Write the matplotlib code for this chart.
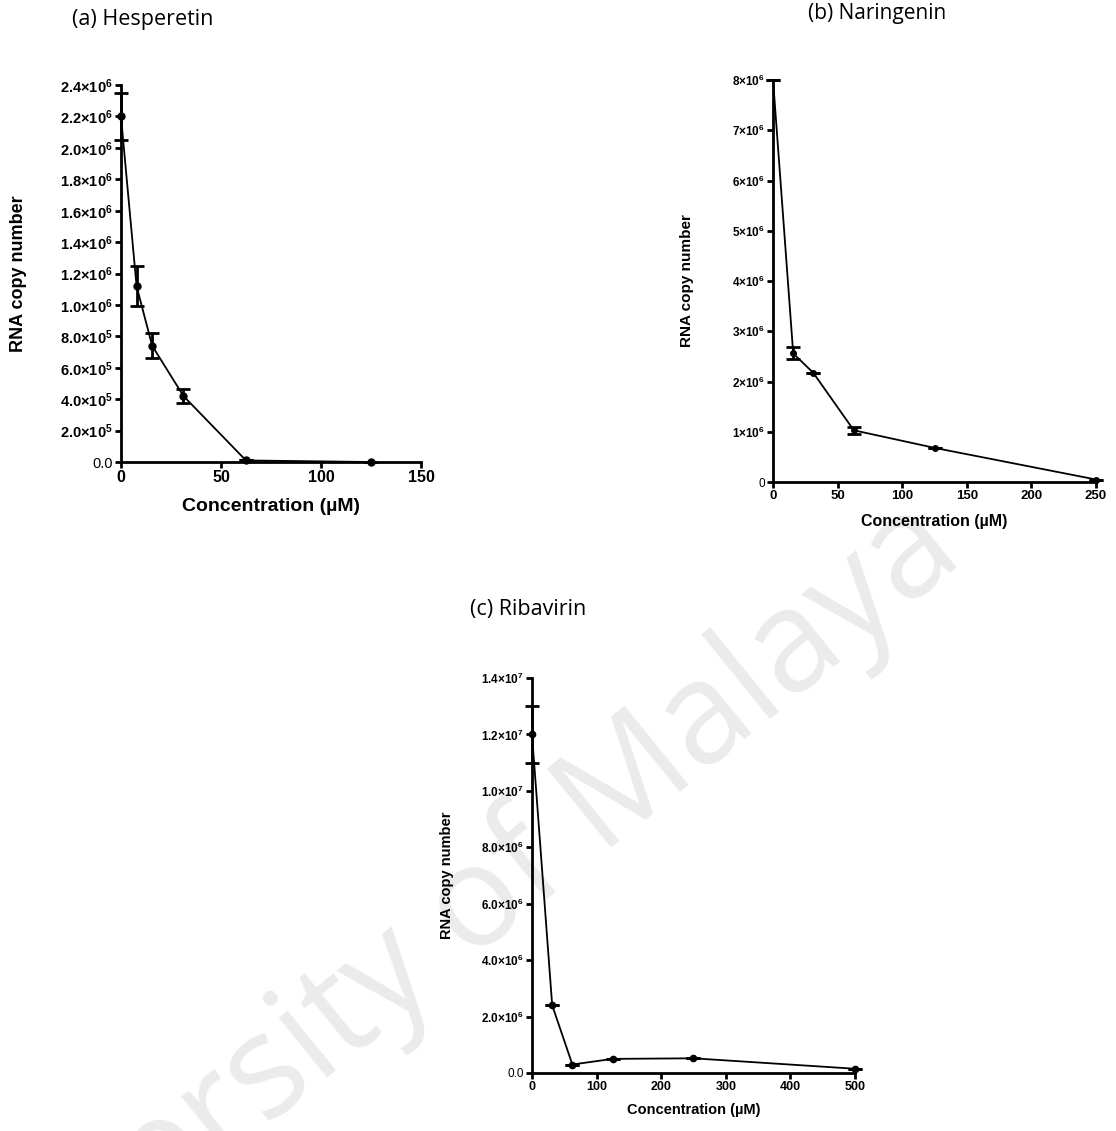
import matplotlib

matplotlib.use("Agg")

import matplotlib.pyplot as plt
from matplotlib.ticker import FixedLocator, FuncFormatter

plt.rcParams["font.family"] = ["Liberation Sans", "DejaVu Sans"]
plt.rcParams["mathtext.fontset"] = "custom"
plt.rcParams["mathtext.rm"] = "Liberation Sans:bold"
plt.rcParams["mathtext.bf"] = "Liberation Sans:bold"

# (a) Hesperetin
hes_conc = [0, 7.8, 15.6, 31.25, 62.5, 125]
hes_rna = [2.20e6, 1.12e6, 0.74e6, 0.42e6, 0.01e6, 0.0]
hes_err = [0.15e6, 0.125e6, 0.08e6, 0.045e6, 0.0, 0.0]

# (b) Naringenin
nar_conc = [0, 15.6, 31.25, 62.5, 125, 250]
nar_rna = [8.0e6, 2.56e6, 2.17e6, 1.03e6, 0.68e6, 0.05e6]
nar_err = [0.0, 0.12e6, 0.0, 0.07e6, 0.0, 0.0]

# (c) Ribavirin
rib_conc = [0, 31.25, 62.5, 125, 250, 500]
rib_rna = [1.20e7, 2.4e6, 0.3e6, 0.5e6, 0.52e6, 0.15e6]
rib_err = [0.10e7, 0.0, 0.0, 0.0, 0.0, 0.0]

hes_yticks = [0, 2e5, 4e5, 6e5, 8e5, 1e6, 1.2e6, 1.4e6, 1.6e6, 1.8e6, 2.0e6, 2.2e6, 2.4e6]
nar_yticks = [0, 1e6, 2e6, 3e6, 4e6, 5e6, 6e6, 7e6, 8e6]
rib_yticks = [0, 2e6, 4e6, 6e6, 8e6, 1e7, 1.2e7, 1.4e7]


def sci_fmt(decimals):
    def f(v, _pos):
        if v == 0:
            return "0" if decimals == 0 else "0.0"
        exp = 0
        m = v
        while m >= 10:
            m /= 10
            exp += 1
        ms = f"{m:.{decimals}f}"
        return rf"$\mathbf{{{ms}{{\times}}10^{{{exp}}}}}$"
    return f


def draw(ax, x, y, err, xlim, xticks, ylim, yticks, decimals, fs_y, fs_x, ms, markevery=None):
    ax.set_facecolor("none")
    ax.errorbar(x, y, yerr=err, color="black", marker="o", markersize=ms,
                linewidth=1.3, elinewidth=2, capsize=5, capthick=2,
                markevery=markevery, clip_on=False, zorder=5)
    ax.set_xlim(*xlim)
    ax.set_ylim(*ylim)
    ax.xaxis.set_major_locator(FixedLocator(xticks))
    ax.yaxis.set_major_locator(FixedLocator(yticks))
    ax.yaxis.set_major_formatter(FuncFormatter(sci_fmt(decimals)))
    for s in ("top", "right"):
        ax.spines[s].set_visible(False)
    for s in ("left", "bottom"):
        ax.spines[s].set_linewidth(2)
    ax.tick_params(direction="out", width=2, length=4, pad=2)
    ax.tick_params(axis="y", labelsize=fs_y)
    ax.tick_params(axis="x", labelsize=fs_x)
    for lab in ax.get_xticklabels():
        lab.set_fontweight("bold")


def labels(ax, fs_y, ylab_x, fs_x, xlab_y):
    ax.set_ylabel("RNA copy number", fontsize=fs_y, fontweight="bold", va="center")
    ax.yaxis.set_label_coords(ylab_x, 0.5)
    ax.set_xlabel("Concentration (µM)", fontsize=fs_x, fontweight="bold", va="center")
    ax.xaxis.set_label_coords(0.5, xlab_y)


fig = plt.figure(figsize=(11.16, 11.31), dpi=100)

fig.text(0.866, 0.505, "University of Malaya", fontsize=102, color="#ebebeb",
         rotation=39, rotation_mode="anchor", ha="right", va="baseline",
         family="Open Sans", zorder=-5)

ax_a = fig.add_axes([0.1084, 0.5915, 0.2688, 0.3333])
draw(ax_a, hes_conc, hes_rna, hes_err, (0, 150), [0, 50, 100, 150],
     (0, 2.4e6), hes_yticks, 1, 10.5, 11.5, 5)
labels(ax_a, 13, -0.343, 14, -0.119)

ax_b = fig.add_axes([0.6927, 0.5738, 0.2894, 0.3554])
draw(ax_b, nar_conc, nar_rna, nar_err, (0, 250), [0, 50, 100, 150, 200, 250],
     (0, 8e6), nar_yticks, 0, 8.5, 9.5, 4, markevery=[1, 2, 3, 4, 5])
labels(ax_b, 11, -0.266, 11.5, -0.097)

ax_c = fig.add_axes([0.4767, 0.0513, 0.2894, 0.3492])
draw(ax_c, rib_conc, rib_rna, rib_err, (0, 500), [0, 100, 200, 300, 400, 500],
     (0, 1.4e7), rib_yticks, 1, 8.5, 9, 4.5)
labels(ax_c, 10.5, -0.263, 10.5, -0.094)

title_font = ["Open Sans", "DejaVu Sans"]
fig.text(72 / 1116, 1 - 19 / 1131, "(a) Hesperetin", fontsize=15.5, family=title_font,
         ha="left", va="center")
fig.text(808 / 1116, 1 - 13 / 1131, "(b) Naringenin", fontsize=15, family=title_font,
         ha="left", va="center")
fig.text(470 / 1116, 1 - 609 / 1131, "(c) Ribavirin", fontsize=15.5, family=title_font,
         ha="left", va="center")

fig.savefig("out.png", dpi=100)
